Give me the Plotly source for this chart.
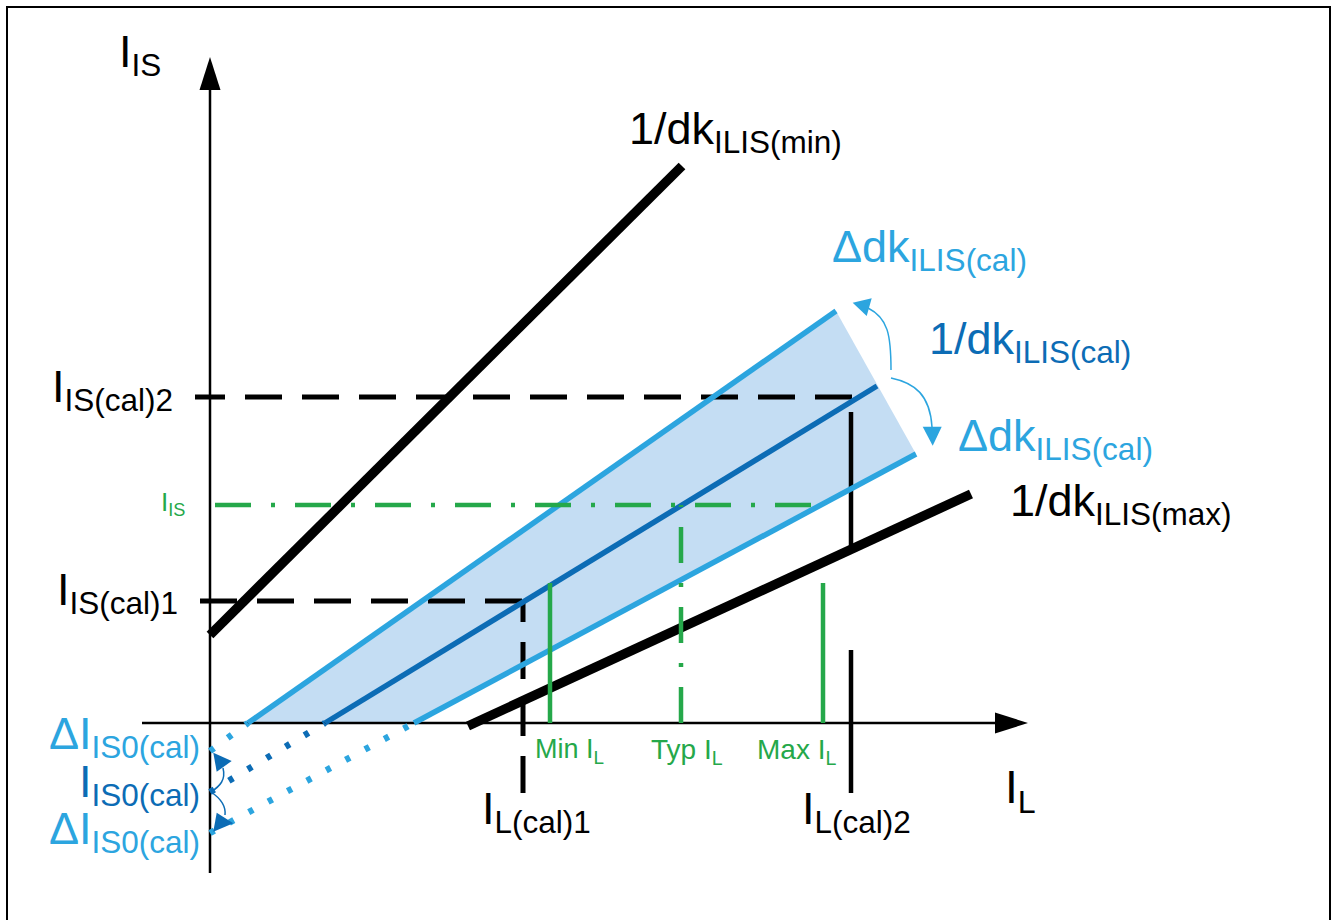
import plotly.graph_objects as go

# ---------------- data (diagram units: origin at the axis crossing, I_L → right, I_IS → up)
X_RANGE = [-210, 1122]
Y_RANGE = [-197, 723]

# characteristic lines: [start, end]
min_x, min_y = [0, 472], [88, 557]          # 1/dk ILIS(min)
max_x, max_y = [258, 761], [-3, 229]        # 1/dk ILIS(max)
up_x, up_y = [38, 626], [0, 412]            # upper tolerance line (Δdk)
mid_x, mid_y = [115, 667], [0, 337]         # 1/dk ILIS(cal)
lo_x, lo_y = [204, 706], [0, 269]           # lower tolerance line (Δdk)
offsets = [-28, -69, -110]                  # I_IS0 offsets on the I_IS axis (up, mid, low)

# calibration points
il_cal = [313, 641]                         # I_L(cal)1, I_L(cal)2
iis_cal = [122, 326]                        # I_IS(cal)1, I_IS(cal)2
cal2_h_x = [642, -15]
cal1_h_x = [-10, 313]
cal1_v_y = [-70, 122]
cal2_v_upper_y = [311, 175]
cal2_v_lower_y = [73, -70]

# operating range (green)
is_level = 218
is_x = [5, 616]
il_min, il_typ, il_max = 340, 471, 613
il_top = 140

# axes
xaxis_x = [-68, 785]
yaxis_y = [-150, 633]
x_tip, y_tip = 818, 666

# labels: (text, x, y, size, color)
BLACK, LBLUE, DBLUE, GREEN, FILL = "#000000", "#2ca5df", "#0c6cb5", "#25a84a", "#c4ddf3"
labels = [
    ("I<sub>IS</sub>", -92, 669, 45, BLACK),
    ("1/dk<sub>ILIS(min)</sub>", 418, 592, 45, BLACK),
    ("Δdk<sub>ILIS(cal)</sub>", 621, 474, 45, LBLUE),
    ("1/dk<sub>ILIS(cal)</sub>", 718, 382, 45, DBLUE),
    ("Δdk<sub>ILIS(cal)</sub>", 747, 285, 45, LBLUE),
    ("1/dk<sub>ILIS(max)</sub>", 799, 220, 45, BLACK),
    ("I<sub>IS(cal)2</sub>", -159, 334, 45, BLACK),
    ("I<sub>IS</sub>", -50, 220, 26, GREEN),
    ("I<sub>IS(cal)1</sub>", -154, 131, 45, BLACK),
    ("ΔI<sub>IS0(cal)</sub>", -162, -13, 45, LBLUE),
    ("I<sub>IS0(cal)</sub>", -132, -61, 45, DBLUE),
    ("ΔI<sub>IS0(cal)</sub>", -162, -108, 45, LBLUE),
    ("Min I<sub>L</sub>", 324, -28, 27, GREEN),
    ("Typ I<sub>L</sub>", 440, -28, 28, GREEN),
    ("Max I<sub>L</sub>", 546, -28, 28, GREEN),
    ("I<sub>L(cal)1</sub>", 271, -88, 45, BLACK),
    ("I<sub>L(cal)2</sub>", 591, -88, 45, BLACK),
    ("I<sub>L</sub>", 794, -67, 46, BLACK),
]

# curved arrows: (path points, arrowhead triangle, color)
arcs = [
    ([(681, 353), (681, 388), (678, 405), (658, 415)], [(642.7, 420.3), (661.7, 424.7), (656.7, 407)], LBLUE),
    ([(681, 345), (705, 340), (720, 328), (722, 296)], [(712.7, 296.3), (731.7, 296.3), (722.7, 277.3)], LBLUE),
    ([(1, -69), (10, -63), (16, -57), (13, -45)], [(3.3, -29.7), (21.7, -38), (6.7, -48.7)], DBLUE),
    ([(1, -69), (10, -75), (16, -83), (15, -92)], [(6.7, -89.7), (23.3, -100.3), (3.3, -108.7)], DBLUE),
]
frame = dict(x0=-203, x1=1120, y0=-230, y1=716)

FONT = "Liberation Sans, Arial, sans-serif"

fig = go.Figure()


def seg(xs, ys, color, width, dash="solid"):
    fig.add_trace(go.Scatter(x=xs, y=ys, mode="lines", hoverinfo="skip",
                             line=dict(color=color, width=width, dash=dash)))


# tolerance band fill
fig.add_trace(go.Scatter(x=[up_x[0], up_x[1], lo_x[1], lo_x[0]],
                         y=[up_y[0], up_y[1], lo_y[1], lo_y[0]],
                         mode="lines", fill="toself", fillcolor=FILL,
                         line=dict(width=0, color=FILL), hoverinfo="skip"))

# axes
seg(xaxis_x, [0, 0], BLACK, 2.5)
seg([0, 0], yaxis_y, BLACK, 2.5)

# calibration construction lines
DASH = "37px,20px"
seg(cal2_h_x, [iis_cal[1], iis_cal[1]], BLACK, 5, DASH)
seg(cal1_h_x, [iis_cal[0], iis_cal[0]], BLACK, 5, DASH)
seg([il_cal[0], il_cal[0]], cal1_v_y, BLACK, 5, DASH)
seg([il_cal[1], il_cal[1]], cal2_v_upper_y, BLACK, 4.5)
seg([il_cal[1], il_cal[1]], cal2_v_lower_y, BLACK, 4.5)

# dotted extrapolations to the I_IS axis
DOT = "5px,17px"
seg([0, up_x[0]], [offsets[0], up_y[0]], LBLUE, 6.5, DOT)
seg([0, mid_x[0]], [offsets[1], mid_y[0]], DBLUE, 6.5, DOT)
seg([0, lo_x[0]], [offsets[2], lo_y[0]], LBLUE, 6.5, DOT)

# calibrated lines
seg(up_x, up_y, LBLUE, 5.5)
seg(lo_x, lo_y, LBLUE, 5.5)
seg(mid_x, mid_y, DBLUE, 5.5)

# limit lines
seg(min_x, min_y, BLACK, 9.5)
seg(max_x, max_y, BLACK, 9.5)

# operating range
DASHDOT = "36px,20px,4px,20px"
seg(is_x, [is_level, is_level], GREEN, 4.5, DASHDOT)
seg([il_typ, il_typ], [0, is_level], GREEN, 4.5, DASHDOT)
seg([il_min, il_min], [il_top, 0], GREEN, 4.5)
seg([il_max, il_max], [il_top, 0], GREEN, 4.5)

shapes = []
# frame
shapes.append(dict(type="rect", xref="x", yref="y", line=dict(color=BLACK, width=2),
                   fillcolor="rgba(0,0,0,0)", layer="above", **frame))
# axis arrowheads
shapes.append(dict(type="path", xref="x", yref="y", layer="above",
                   path=f"M {x_tip},0 L {xaxis_x[1]},10.5 L {xaxis_x[1]},-10.5 Z",
                   fillcolor=BLACK, line=dict(width=0)))
shapes.append(dict(type="path", xref="x", yref="y", layer="above",
                   path=f"M 0,{y_tip} L -10.5,{yaxis_y[1]} L 10.5,{yaxis_y[1]} Z",
                   fillcolor=BLACK, line=dict(width=0)))
# curved arrows
for pts, tri, col in arcs:
    p = pts
    shapes.append(dict(type="path", xref="x", yref="y", layer="above",
                       path=f"M {p[0][0]},{p[0][1]} C {p[1][0]},{p[1][1]} {p[2][0]},{p[2][1]} {p[3][0]},{p[3][1]}",
                       line=dict(color=col, width=1.5)))
    shapes.append(dict(type="path", xref="x", yref="y", layer="above",
                       path=f"M {tri[0][0]},{tri[0][1]} L {tri[1][0]},{tri[1][1]} L {tri[2][0]},{tri[2][1]} Z",
                       fillcolor=col, line=dict(width=0)))

annotations = []
for txt, x, y, size, col in labels:
    annotations.append(dict(text=txt, x=x, y=y, xref="x", yref="y", showarrow=False,
                            xanchor="left", yanchor="middle", borderpad=0,
                            font=dict(family=FONT, size=size, color=col)))

fig.update_layout(
    width=1332, height=920, margin=dict(l=0, r=0, t=0, b=0),
    paper_bgcolor="white", plot_bgcolor="white", showlegend=False,
    xaxis=dict(range=X_RANGE, visible=False, fixedrange=True),
    yaxis=dict(range=Y_RANGE, visible=False, fixedrange=True),
    shapes=shapes, annotations=annotations,
)

fig.write_html("out.html", config={"displayModeBar": False},
               post_script="document.body.style.margin='0';document.body.style.overflow='hidden';")
